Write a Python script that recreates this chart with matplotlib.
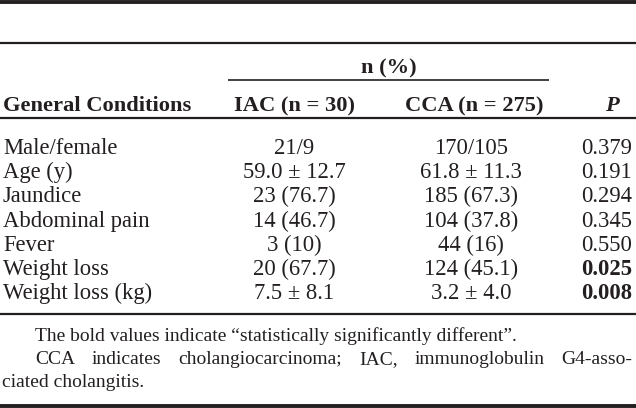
import matplotlib
matplotlib.use("Agg")
import matplotlib.pyplot as plt

conditions = ["Male/female", "Age (y)", "Jaundice", "Abdominal pain", "Fever",
              "Weight loss", "Weight loss (kg)"]
iac_values = ["21/9", "59.0 \u00b1 12.7", "23 (76.7)", "14 (46.7)", "3 (10)",
              "20 (67.7)", "7.5 \u00b1 8.1"]
cca_values = ["170/105", "61.8 \u00b1 11.3", "185 (67.3)", "104 (37.8)", "44 (16)",
              "124 (45.1)", "3.2 \u00b1 4.0"]
p_values = ["0.379", "0.191", "0.294", "0.345", "0.550", "0.025", "0.008"]
p_bold = [False, False, False, False, False, True, True]

header_group = "n (%)"
headers = ["General Conditions", "IAC (n = 30)", "CCA (n = 275)", "P"]
note1 = "The bold values indicate \u201cstatistically significantly different\u201d."
note2_words = "CCA indicates cholangiocarcinoma; IAC, immunoglobulin G4-asso-".split()
note3 = "ciated cholangitis."

W, H = 636, 408
fig = plt.figure(figsize=(W / 100, H / 100), dpi=100)
ax = fig.add_axes([0, 0, 1, 1])
ax.set_xlim(0, W)
ax.set_ylim(H, 0)
ax.axis("off")

FONT = "Liberation Serif"
FS = 16.3
FSH = 16.2
FSN = 14
col = "#231f20"

# rules
ax.plot([0, W], [2, 2], color=col, lw=2.8, solid_capstyle="butt")
ax.plot([0, W], [43, 43], color=col, lw=1.6, solid_capstyle="butt")
ax.plot([228, 549], [80, 80], color=col, lw=1.2, solid_capstyle="butt")
ax.plot([0, W], [118, 118], color=col, lw=1.6, solid_capstyle="butt")
ax.plot([0, W], [314, 314], color=col, lw=1.6, solid_capstyle="butt")
ax.plot([0, W], [406, 406], color=col, lw=2.8, solid_capstyle="butt")

x_cond = 3
x_iac = 294
x_cca = 474
x_p_center = 612
x_p_right = 632

ax.text(389, 73, header_group, fontfamily=FONT, fontsize=FSH, fontweight="bold",
        ha="center", va="baseline", color=col)
hy = 111
ax.text(x_cond, hy, headers[0], fontfamily=FONT, fontsize=FSH, fontweight="bold",
        ha="left", va="baseline", color=col)
ax.text(x_iac, hy, headers[1], fontfamily=FONT, fontsize=FSH, fontweight="bold",
        ha="center", va="baseline", color=col)
ax.text(x_cca, hy, headers[2], fontfamily=FONT, fontsize=FSH, fontweight="bold",
        ha="center", va="baseline", color=col)
ax.text(x_p_center, hy, headers[3], fontfamily=FONT, fontsize=FSH, fontweight="bold",
        fontstyle="italic", ha="center", va="baseline", color=col)

y0 = 154
dy = 24.2
for i, (c, a, b, p, bold) in enumerate(zip(conditions, iac_values, cca_values,
                                            p_values, p_bold)):
    y = y0 + i * dy
    ax.text(x_cond, y, c, fontfamily=FONT, fontsize=FS, ha="left", va="baseline", color=col)
    ax.text(x_iac, y, a, fontfamily=FONT, fontsize=FS, ha="center", va="baseline", color=col)
    ax.text(x_cca - 3, y, b, fontfamily=FONT, fontsize=FS, ha="center", va="baseline", color=col)
    ax.text(x_p_right, y, p, fontfamily=FONT, fontsize=FS, ha="right", va="baseline",
            color=col, fontweight="bold" if bold else "normal")

ax.text(35, 341, note1, fontfamily=FONT, fontsize=FSN, ha="left", va="baseline", color=col)

# justified line
fig.canvas.draw()
renderer = fig.canvas.get_renderer()
words = []
total = 0
for w in note2_words:
    t = ax.text(0, 364, w, fontfamily=FONT, fontsize=FSN, ha="left", va="baseline", color=col)
    bb = t.get_window_extent(renderer)
    wd = bb.width
    words.append((t, wd))
    total += wd
x_start, x_end = 35, 632
gap = (x_end - x_start - total) / (len(words) - 1)
x = x_start
for t, wd in words:
    t.set_x(x)
    x += wd + gap

ax.text(2, 387, note3, fontfamily=FONT, fontsize=FSN, ha="left", va="baseline", color=col)

fig.savefig("out.png", dpi=100)
